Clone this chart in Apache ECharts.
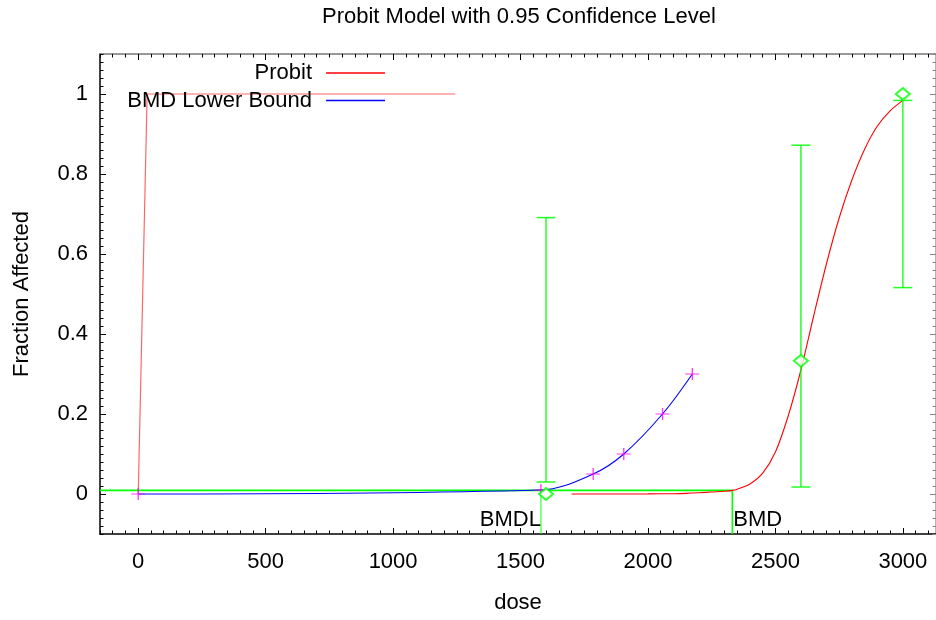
<!DOCTYPE html>
<html>
<head>
<meta charset="utf-8">
<script src="https://cdn.jsdelivr.net/npm/echarts@6/dist/echarts.min.js"></script>
<style>
html,body{margin:0;padding:0;background:#fff;}
#chart{width:936px;height:620px;}
</style>
</head>
<body>
<div id="chart"></div>
<script>
// ---- data ----
const titleText = 'Probit Model with 0.95 Confidence Level';
const xName = 'dose';
const yName = 'Fraction Affected';
const xTicks = [0, 500, 1000, 1500, 2000, 2500, 3000];
const xTickLabels = ['0', '500', '1000', '1500', '2000', '2500', '3000'];
const yTicks = [0, 0.2, 0.4, 0.6, 0.8, 1];
const yTickLabels = ['0', '0.2', '0.4', '0.6', '0.8', '1'];
const xMin = -150, xMax = 3130, yMin = -0.1, yMax = 1.1;

// fitted probit curve
const probitDose = [1700, 1800, 1900, 2000, 2100, 2150, 2200, 2250, 2300, 2331, 2350, 2400, 2450, 2500, 2550, 2600, 2650, 2700, 2750, 2800, 2850, 2900, 2950, 3000];
const probitResp = [0, 0, 0, 0.0003, 0.0008, 0.0015, 0.003, 0.005, 0.007, 0.009, 0.012, 0.025, 0.052, 0.105, 0.195, 0.31, 0.445, 0.575, 0.69, 0.785, 0.862, 0.92, 0.958, 0.984];
// stray red segment near dose 0
const spikeDose = [0, 35, 1244];
const spikeResp = [0, 1, 1];
// BMD lower bound curve
const lbDose = [0, 1580, 1785, 1905, 2057, 2174];
const lbResp = [0, 0.01, 0.05, 0.1, 0.2, 0.3];
// observed data with confidence limits
const obsDose = [1600, 2600, 3000];
const obsResp = [0, 0.333, 1.0];
const obsLower = [0.03, 0.0175, 0.516];
const obsUpper = [0.691, 0.872, 0.984];
// benchmark lines
const bmr = 0.009;
const bmdl = 1580;
const bmd = 2331;
const bmdLabels = ['BMDL', 'BMD'];
const bmdLabelY = -0.0655;

// ---- chart ----
const FONT = "'Liberation Sans', Arial, sans-serif";
const FS = 22;
const zip = (a, b) => a.map((v, i) => [v, b[i]]);
const lookup = (ticks, labels) => v => { const i = ticks.findIndex(t => Math.abs(t - v) < 1e-9); return i >= 0 ? labels[i] : ''; };

const chart = echarts.init(document.getElementById('chart'), null, {renderer: 'canvas'});

function xAxisCfg(pos, major, showLine, lineColor, labels) {
  return {
    type: 'value', min: xMin, max: xMax, position: pos,
    interval: major ? undefined : 50,
    axisLine: {show: showLine, onZero: false, lineStyle: {color: lineColor, width: 1.5}},
    axisTick: major ? {show: true, inside: true, length: 6, customValues: xTicks, lineStyle: {color: '#000', width: 1}}
                    : {show: true, inside: true, length: 3.5, lineStyle: {color: '#000', width: 1}},
    axisLabel: labels ? {show: true, customValues: xTicks, color: '#000', fontSize: FS, fontFamily: FONT, margin: 17,
      formatter: lookup(xTicks, xTickLabels)} : {show: false},
    splitLine: {show: false},
    name: labels ? xName : '', nameLocation: 'middle', nameGap: 58,
    nameTextStyle: {color: '#000', fontSize: FS, fontFamily: FONT}
  };
}
function yAxisCfg(pos, major, showLine, lineColor, labels) {
  const tc = pos === 'right' ? '#888' : '#000';
  return {
    type: 'value', min: yMin, max: yMax, position: pos,
    interval: major ? undefined : 0.02,
    axisLine: {show: showLine, onZero: false, lineStyle: {color: lineColor, width: 1.5}},
    axisTick: major ? {show: true, inside: true, length: 6, customValues: yTicks, lineStyle: {color: tc, width: 1}}
                    : {show: true, inside: true, length: 3.5, lineStyle: {color: tc, width: 1}},
    axisLabel: labels ? {show: true, customValues: yTicks, color: '#000', fontSize: FS, fontFamily: FONT, margin: 12,
      formatter: lookup(yTicks, yTickLabels)} : {show: false},
    splitLine: {show: false},
    name: labels ? yName : '', nameLocation: 'middle', nameGap: 67,
    nameTextStyle: {color: '#000', fontSize: FS, fontFamily: FONT}
  };
}

const errData = obsDose.map((d, i) => [d, obsLower[i], obsUpper[i]]);

const option = {
  backgroundColor: '#fff',
  animation: false,
  title: {
    text: titleText, left: 322, top: 6, padding: 0,
    textStyle: {color: '#000', fontSize: FS, fontWeight: 'normal', fontFamily: FONT}
  },
  legend: {
    data: ['Probit', 'BMD Lower Bound'],
    orient: 'vertical', align: 'right',
    right: 551, top: 62, padding: 0,
    icon: 'rect',
    itemWidth: 59, itemHeight: 1.3, itemGap: 5.5,
    textStyle: {color: '#000', fontSize: FS, fontFamily: FONT, lineHeight: 22, padding: [0, 9, 0, 0]}
  },
  grid: {left: 100, top: 54, width: 837, height: 480, containLabel: false},
  xAxis: [
    xAxisCfg('bottom', true, true, '#000', true),
    xAxisCfg('bottom', false, false, '#000', false),
    xAxisCfg('top', true, true, '#777', false),
    xAxisCfg('top', false, false, '#777', false)
  ],
  yAxis: [
    yAxisCfg('left', true, true, '#000', true),
    yAxisCfg('left', false, false, '#000', false),
    yAxisCfg('right', true, true, '#999', false),
    yAxisCfg('right', false, false, '#999', false)
  ],
  series: [
    {
      name: 'BMR lines', type: 'line', xAxisIndex: 0, yAxisIndex: 0,
      data: [[xMin, bmr], [bmd, bmr], [bmd, yMin]],
      symbol: 'none', lineStyle: {color: '#00ff00', width: 1.6}, z: 2
    },
    {
      name: 'BMDL line', type: 'line', xAxisIndex: 0, yAxisIndex: 0,
      data: [[bmdl, bmr], [bmdl, yMin]],
      symbol: 'none', lineStyle: {color: '#00ff00', width: 1.6, opacity: 0.6}, z: 2
    },
    {
      name: 'BMD Lower Bound', type: 'line', xAxisIndex: 0, yAxisIndex: 0,
      data: zip(lbDose, lbResp), smooth: 0.35, symbol: 'none',
      lineStyle: {color: '#0000ff', width: 1.1}, itemStyle: {color: '#0000ff'}, z: 3
    },
    {
      name: 'Probit', type: 'line', xAxisIndex: 0, yAxisIndex: 0,
      data: zip(probitDose, probitResp), smooth: 0.3, symbol: 'none',
      lineStyle: {color: '#ff0000', width: 1.1}, itemStyle: {color: '#ff0000'}, z: 3
    },
    {
      name: 'spike', type: 'line', xAxisIndex: 0, yAxisIndex: 0,
      data: zip(spikeDose, spikeResp), symbol: 'none',
      lineStyle: {color: '#ff0000', width: 1.2, opacity: 0.6}, z: 3
    },
    {
      name: 'lb points', type: 'scatter', xAxisIndex: 0, yAxisIndex: 0,
      data: zip(lbDose, lbResp),
      symbol: 'path://M0,6L14,6M7,0L7,12', symbolSize: [14, 12], symbolKeepAspect: false,
      itemStyle: {color: 'none', borderColor: '#ff00ff', borderWidth: 1.2}, z: 4
    },
    {
      name: 'error bars', type: 'custom', xAxisIndex: 0, yAxisIndex: 0,
      data: errData,
      encode: {x: 0, y: [1, 2]},
      renderItem: function (params, api) {
        const x = api.value(0), lo = api.value(1), hi = api.value(2);
        const pLo = api.coord([x, lo]), pHi = api.coord([x, hi]);
        const hw = 9.5;
        const st = {stroke: '#00ff00', lineWidth: 1.5, opacity: 0.85};
        return {type: 'group', children: [
          {type: 'line', shape: {x1: pLo[0], y1: pLo[1], x2: pHi[0], y2: pHi[1]}, style: st},
          {type: 'line', shape: {x1: pLo[0] - hw, y1: pLo[1], x2: pLo[0] + hw, y2: pLo[1]}, style: st},
          {type: 'line', shape: {x1: pHi[0] - hw, y1: pHi[1], x2: pHi[0] + hw, y2: pHi[1]}, style: st}
        ]};
      },
      z: 4
    },
    {
      name: 'observed', type: 'scatter', xAxisIndex: 0, yAxisIndex: 0,
      data: zip(obsDose, obsResp),
      symbol: 'emptyDiamond', symbolSize: [14, 12],
      itemStyle: {color: '#00ff00', borderColor: '#00ff00', borderWidth: 1.2}, z: 5
    },
    {
      name: 'bmd labels', type: 'custom', xAxisIndex: 0, yAxisIndex: 0,
      data: [[bmdl, bmdLabelY, 0], [bmd, bmdLabelY, 1]],
      renderItem: function (params, api) {
        const p = api.coord([api.value(0), api.value(1)]);
        const i = api.value(2);
        return {
          type: 'text', x: p[0] + (i === 0 ? 0 : 1), y: p[1],
          style: {text: bmdLabels[i], fill: '#000', font: FS + 'px ' + FONT,
            align: i === 0 ? 'right' : 'left', verticalAlign: 'middle'}
        };
      },
      z: 6
    }
  ]
};
chart.setOption(option);
</script>
</body>
</html>
